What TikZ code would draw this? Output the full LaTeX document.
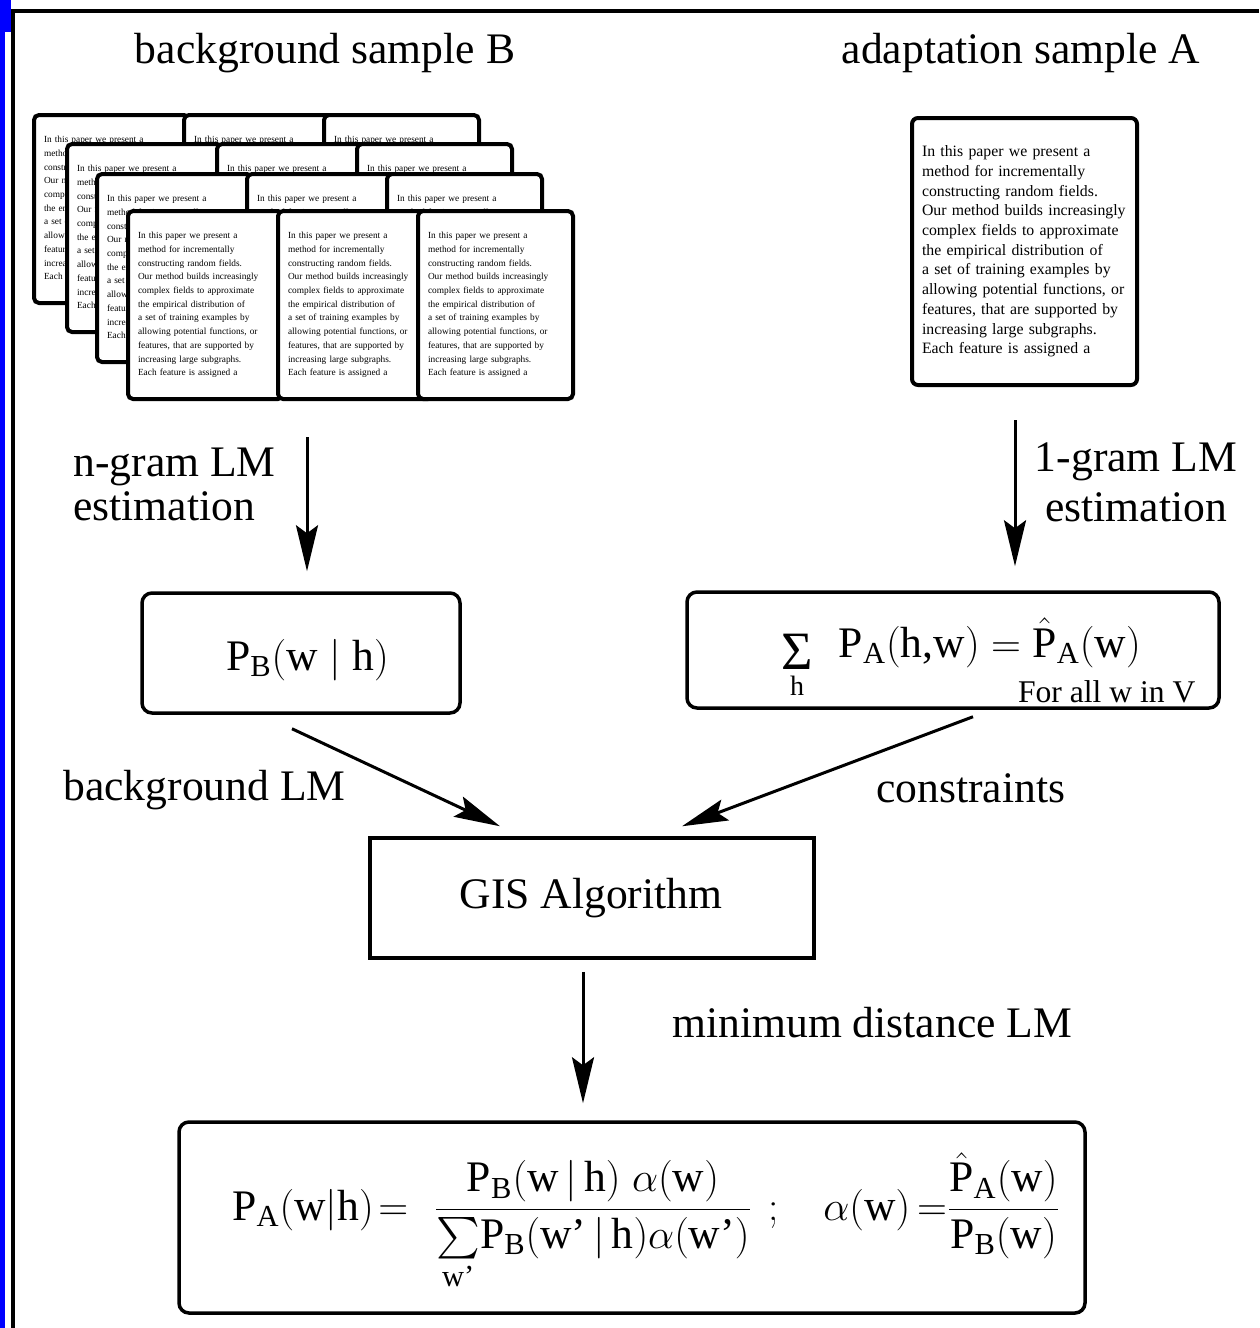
\documentclass[tikz,border=0pt]{standalone}
\usepackage{amsmath}
\usepackage{fontspec}
\setmainfont{Liberation Serif}
\usetikzlibrary{arrows.meta, positioning}

\newcommand{\tx}[1]{\text{#1}}
\newcommand{\papertext}{In this paper we present a\\
  method for incrementally\\
  constructing random fields.\\
  Our method builds increasingly\\
  complex fields to approximate\\
  the empirical distribution of\\
  a set of training examples by\\
  allowing potential functions, or\\
  features, that are supported by\\
  increasing large subgraphs.\\
  Each feature is assigned a}

\begin{document}
\begin{tikzpicture}[x=0.5pt, y=-0.5pt,
    lbl/.style={font=\fontsize{21.8}{22}\selectfont, inner sep=0pt},
    smalllbl/.style={font=\fontsize{15.8}{18}\selectfont, inner sep=0pt},
    box/.style={draw, line width=1.75pt, rounded corners=5pt, inner sep=0pt},
    page/.style={draw, fill=white, line width=2pt, rounded corners=2.5pt,
      anchor=north west, minimum width=77.5pt, minimum height=94pt,
      inner xsep=5pt, inner ysep=0pt, text width=67.5pt, align=left,
      font=\fontsize{4.67}{6.85}\selectfont},
    docpage/.style={draw, fill=white, line width=2pt, rounded corners=3pt,
      minimum width=112.5pt, minimum height=133.5pt,
      inner xsep=5pt, inner ysep=0pt, text width=102.5pt, align=left,
      font=\fontsize{7.9}{9.85}\selectfont},
    arr/.style={line width=1.5pt, -{Stealth[length=23pt, width=11pt, inset=4pt]}}]
        \fill[white] (0,0) rectangle (1259,1328);
        \useasboundingbox (0,0) rectangle (1259,1328);
        \fill[blue] (0,0) rectangle (4.5,1328);
        \fill[blue] (0,0) rectangle (11,32);
        \draw[line width=2pt] (12.5,1328) -- (12.5,11) -- (1259,11);

        % samples
        \node[lbl, anchor=base] (titleB) at (325,63) {background sample B};
        \node[lbl, anchor=base] (titleA) at (1021,63) {adaptation sample A};
        \foreach \lx/\ly [count=\i] in {32/113, 65/142, 95/172, 126/209}
            \foreach \dx [count=\j] in {0,150,290}
                \node[page] (pg\i\j) at (\lx+\dx,\ly) {\papertext};
        \coordinate (stackbot) at (307,400);
        \node[docpage] (docA) at (1024.5,251.5) {\papertext};

        % estimation
        \node[lbl, align=left, anchor=west] (ngram) at (73,484.5) {n-gram LM\\estimation};
        \node[lbl, font=\fontsize{21.8}{25}\selectfont, align=center] (unigram) at (1136,482) {1-gram LM\\estimation};

        \node[box, minimum width=159pt, minimum height=60pt] (pb) at (301,653) {};
        \node[lbl, anchor=base] (pbtxt) at (307.5,670) {$\tx{P}_{\tx{B}}(\tx{w}\mid\tx{h})$};
        \node[box, minimum width=266pt, minimum height=58pt] (sum) at (953,650) {};
        \node[lbl, anchor=base west] (sumtxt) at (781,657)
            {\raisebox{-6pt}{$\underset{\tx{\fontsize{14}{14}\selectfont h}}{\tx{\fontsize{27}{27}\selectfont Σ}}$}\hspace{13pt}$\tx{P}_{\tx{A}}(\tx{h,w}) = \hat{\tx{P}}_{\tx{A}}(\tx{w})$};
        \node[smalllbl, above left=3pt and 12.5pt of sum.south east] (forall) {For all w in V};

        % GIS
        \node[lbl, anchor=base west] (bglm) at (63,800) {background LM};
        \node[lbl, anchor=base west] (constr) at (876,802) {constraints};
        \node[box, sharp corners, minimum width=222pt, minimum height=60pt] (gis) at (592,898) {};
        \node[lbl, anchor=base] (gistxt) at (591,908) {GIS Algorithm};
        \node[lbl, anchor=base west] (mdlm) at (672,1037) {minimum distance LM};

        \node[box, minimum width=453pt, minimum height=95.5pt] (res) at (632,1217.5) {};
        \node[lbl, anchor=base west] (restxt) at (232,1220)
            {$\tx{P}_{\tx{A}}(\tx{w}|\tx{h})\!=\hspace{7pt}\dfrac{\tx{P}_{\tx{B}}(\tx{w}\,|\,\tx{h})\;\alpha(\tx{w})}{\textstyle\sum\limits_{\tx{w'}}\!\tx{P}_{\tx{B}}(\tx{w'}\,|\,\tx{h})\alpha(\tx{w'})}\hspace{8pt};\hspace{19pt}\alpha(\tx{w})\,{=}\dfrac{\hat{\tx{P}}_{\tx{A}}(\tx{w})}{\tx{P}_{\tx{B}}(\tx{w})}$};

        % arrows
        \draw[arr, shorten <=18.5pt, shorten >=10pt] (stackbot) -- (stackbot |- pb.north);
        \draw[arr, shorten <=16.5pt, shorten >=12pt] ([xshift=-4.75pt]docA.south) -- ([xshift=-4.75pt]docA.south |- sum.north);
        \draw[arr] ([xshift=-4.5pt,yshift=-7pt]pb.south) -- ([xshift=-46pt,yshift=5pt]gis.north);
        \draw[arr] ([xshift=10pt,yshift=-3.5pt]sum.south) -- ([xshift=45pt,yshift=5pt]gis.north);
        \draw[arr, shorten >=8.5pt] ([xshift=-4.5pt,yshift=-6pt]gis.south) -- ([xshift=-4.5pt]gis.south |- res.north);
\end{tikzpicture}
\end{document}
